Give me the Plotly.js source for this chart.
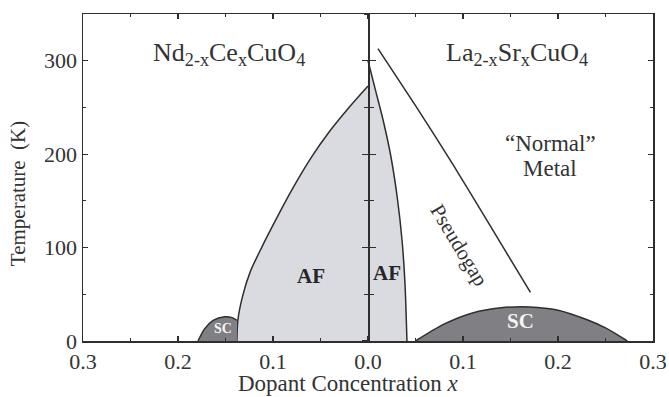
<!DOCTYPE html>
<html>
<head>
<meta charset="utf-8">
<script src="https://cdn.plot.ly/plotly-3.0.1.min.js"></script>
<style>
  html, body { margin: 0; padding: 0; background: #ffffff; }
  #chart { width: 669px; height: 397px; }
</style>
</head>
<body>
<div id="chart"></div>
<script>
// Electron-doped side (Nd2-xCexCuO4) is plotted at negative x, hole-doped (La2-xSrxCuO4) at positive x.
const xTickVals = [-0.3, -0.2, -0.1, 0, 0.1, 0.2, 0.3];
const xTickText = ['0.3', '0.2', '0.1', '0.0', '0.1', '0.2', '0.3'];
const xMinorVals = [-0.25, -0.15, -0.05, 0.05, 0.15, 0.25];

// Nd2-xCexCuO4 antiferromagnetic boundary (Néel temperature)
const ndAfX = [-0.138, -0.137, -0.132, -0.124, -0.112, -0.100, -0.080, -0.060, -0.040, -0.020, 0];
const ndAfT = [0, 22, 48, 74, 100, 124, 162, 196, 225, 250, 273];

// Nd2-xCexCuO4 superconducting dome
const ndScX = [-0.179, -0.172, -0.163, -0.151, -0.143, -0.138];
const ndScT = [0, 13, 22, 26, 25, 22];

// La2-xSrxCuO4 antiferromagnetic boundary
const laAfX = [0, 0.008, 0.016, 0.024, 0.031, 0.036, 0.039, 0.041];
const laAfT = [300, 268, 236, 198, 152, 106, 60, 0];

// La2-xSrxCuO4 superconducting dome
const laScX = [0.05, 0.08, 0.11, 0.14, 0.17, 0.20, 0.23, 0.25, 0.273];
const laScT = [0, 18, 30, 35.5, 36.5, 33, 23, 14, 0];

// Pseudogap crossover line
const pgX = [0.0105, 0.05, 0.09, 0.13, 0.171];
const pgT = [313, 252, 188, 121, 52];

const LINE = '#2e2e2e';
const AF_FILL = '#dadae1';
const SC_FILL = '#807f84';
const FONT = 'Liberation Serif, Times New Roman, serif';

const curve = (smoothing) => ({ color: LINE, width: 1.5, shape: 'spline', smoothing: smoothing });

const traces = [
  { x: ndAfX, y: ndAfT, mode: 'lines', fill: 'tozeroy', fillcolor: AF_FILL,
    line: curve(0.7), hoverinfo: 'skip' },
  { x: ndScX, y: ndScT, mode: 'lines', fill: 'tozeroy', fillcolor: SC_FILL,
    line: curve(0.8), hoverinfo: 'skip' },
  { x: laAfX, y: laAfT, mode: 'lines', fill: 'tozeroy', fillcolor: AF_FILL,
    line: curve(0.7), hoverinfo: 'skip' },
  { x: laScX, y: laScT, mode: 'lines', fill: 'tozeroy', fillcolor: SC_FILL, yaxis: 'y3',
    line: curve(0.8), hoverinfo: 'skip' },
  { x: pgX, y: pgT, mode: 'lines', yaxis: 'y2',
    line: curve(0.5), hoverinfo: 'skip' }
];

const baseAxis = {
  showline: true, linecolor: LINE, linewidth: 1.5,
  showgrid: false, zeroline: false, fixedrange: true,
  tickcolor: LINE, tickwidth: 1.2
};

// Vertical axis drawn through x = 0, with ticks on both sides of the line
const centerAxis = (tickSide) => Object.assign({}, baseAxis, {
  overlaying: 'y', anchor: 'free', position: 0.5,
  range: [0, 350], tickmode: 'linear', tick0: 0, dtick: 100,
  ticks: tickSide, ticklen: 6, showticklabels: false,
  minor: { ticks: tickSide, ticklen: 4, dtick: 50, tick0: 0, tickcolor: LINE, tickwidth: 1.2 }
});

const note = (x, y, text, size, extra) => Object.assign({
  x: x, y: y, xref: 'x', yref: 'y', showarrow: false,
  xanchor: 'center', yanchor: 'middle', text: text, font: { size: size }
}, extra || {});

const layout = {
  width: 669, height: 397,
  margin: { l: 83, r: 16, t: 13.5, b: 56 },
  paper_bgcolor: '#ffffff', plot_bgcolor: '#ffffff',
  showlegend: false,
  font: { family: FONT, color: '#333333', size: 20 },
  xaxis: Object.assign({}, baseAxis, {
    range: [-0.3, 0.3], tickmode: 'array', tickvals: xTickVals, ticktext: xTickText,
    ticks: 'inside', ticklen: 5, mirror: 'ticks',
    minor: { ticks: 'inside', ticklen: 3, tickvals: xMinorVals, tickcolor: LINE, tickwidth: 1.2 },
    tickfont: { family: FONT, size: 22, color: '#333333' }
  }),
  yaxis: Object.assign({}, baseAxis, {
    range: [0, 350], tickmode: 'linear', tick0: 0, dtick: 100,
    ticks: 'inside', ticklen: 5, mirror: 'ticks',
    minor: { ticks: 'inside', ticklen: 3, dtick: 50, tick0: 0, tickcolor: LINE, tickwidth: 1.2 },
    tickfont: { family: FONT, size: 22, color: '#333333' }
  }),
  yaxis2: centerAxis('inside'),
  yaxis3: centerAxis('outside'),
  annotations: [
    note(-0.146, 307, 'Nd<sub>2-x</sub>Ce<sub>x</sub>CuO<sub>4</sub>', 26),
    note(0.157, 307, 'La<sub>2-x</sub>Sr<sub>x</sub>CuO<sub>4</sub>', 26),
    note(0.192, 211, '\u201CNormal\u201D', 23),
    note(0.192, 185, 'Metal', 23),
    note(0.096, 103, 'Pseudogap', 21, { textangle: 59 }),
    note(-0.060, 70, '<b>AF</b>', 21, { font: { size: 21, color: '#262626' } }),
    note(0.020, 72.5, '<b>AF</b>', 21, { font: { size: 21, color: '#262626' } }),
    note(-0.153, 13, '<b>SC</b>', 14, { font: { size: 14, color: '#f4f4f4' } }),
    note(0.161, 21, '<b>SC</b>', 21, { font: { size: 21, color: '#f4f4f4' } }),
    { x: -0.114, y: 0.449, xref: 'paper', yref: 'paper', showarrow: false, textangle: -90,
      xanchor: 'center', yanchor: 'middle', text: 'Temperature  (K)', font: { size: 21 } },
    { x: 0.465, y: -0.131, xref: 'paper', yref: 'paper', showarrow: false,
      xanchor: 'center', yanchor: 'middle', text: 'Dopant Concentration <i>x</i>', font: { size: 23 } }
  ]
};

Plotly.newPlot('chart', traces, layout, { staticPlot: true, displayModeBar: false });
</script>
</body>
</html>
